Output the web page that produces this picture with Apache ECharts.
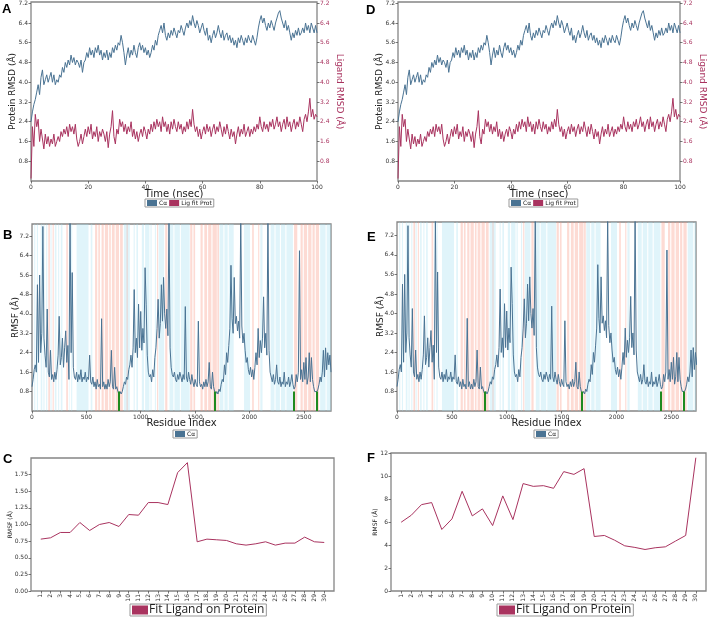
<!DOCTYPE html>
<html><head><meta charset="utf-8">
<script src="https://cdn.jsdelivr.net/npm/echarts@6/dist/echarts.min.js"></script>
<style>html,body{margin:0;padding:0;background:#fff}#c{width:708px;height:618px}</style>
</head><body><div id="c"></div>
<script>
// ---------- DATA ----------
const timeStep = 0.5; // ns between frames
const proteinRMSD = [
2.4,2.8,3.1,3.3,3.6,3.9,3.5,4.2,4.5,3.9,
4.1,4.3,4.0,4.2,4.4,4.0,4.3,3.9,4.1,4.0,
4.3,4.2,4.6,4.4,4.8,4.6,4.9,4.7,5.1,4.8,
5.0,4.7,4.9,4.8,4.6,4.9,4.4,4.8,4.9,5.2,
5.0,5.4,5.1,5.3,5.0,5.4,5.2,5.5,5.1,5.3,
4.9,5.2,5.0,5.3,4.9,5.2,5.0,5.4,5.2,5.5,
5.3,5.6,5.5,5.9,5.6,5.2,4.7,5.1,5.4,5.0,
5.3,5.1,5.5,5.2,5.0,5.4,5.6,5.3,5.5,5.2,
5.4,5.1,5.3,5.0,5.2,5.5,5.3,5.7,5.5,5.9,
6.1,6.3,6.0,6.4,5.9,5.7,6.0,5.8,6.1,5.9,
6.2,6.0,5.8,6.1,6.0,6.3,6.1,5.9,6.2,6.4,
6.2,6.5,6.3,6.7,6.4,6.2,6.5,6.3,6.0,6.2,
6.4,6.1,5.9,6.2,5.7,5.9,5.6,5.9,6.1,5.8,
6.0,6.3,6.0,5.8,6.1,5.7,5.9,6.0,5.7,5.9,
5.6,5.8,5.5,5.7,5.4,5.8,5.6,5.9,5.7,5.5,
5.8,5.6,5.9,5.7,5.6,5.9,5.7,5.5,5.8,6.2,
6.5,6.7,6.4,6.6,6.3,6.1,6.4,6.2,6.5,6.3,
6.1,6.4,6.6,6.8,6.9,6.6,6.4,6.2,6.5,6.1,
6.3,6.0,5.7,6.0,5.8,6.1,5.9,6.2,5.9,6.0,
6.2,6.0,6.4,6.1,6.3,6.0,6.4,6.2,6.0,6.3,
6.0];
const ligandRMSD = [
0.1,2.2,1.4,2.7,2.2,2.5,1.6,2.1,1.7,1.3,
1.9,1.5,1.8,1.4,1.7,1.5,1.9,1.4,1.6,1.8,
1.6,2.0,1.8,2.1,1.9,2.2,1.8,2.3,2.0,2.2,
1.9,2.3,1.7,1.4,1.6,1.9,1.5,1.8,2.1,1.8,
2.2,1.9,2.3,1.7,2.0,1.8,2.2,1.6,2.0,1.8,
2.1,1.9,1.6,2.0,1.35,1.9,2.2,2.85,1.8,1.5,
2.1,1.9,2.5,2.2,2.4,2.0,2.3,1.9,2.2,2.0,
2.4,1.8,2.1,1.7,2.0,1.6,1.9,2.1,1.8,2.2,
2.0,1.7,2.1,1.9,2.3,2.0,2.4,2.1,2.5,2.2,
2.4,2.0,2.6,2.2,2.4,2.0,2.3,1.9,2.4,2.1,
2.5,2.2,2.0,2.4,2.1,2.3,1.9,2.2,2.0,2.4,
2.1,2.5,2.2,2.9,2.3,2.0,2.2,1.8,2.1,1.7,
2.0,2.2,1.9,2.3,2.0,2.2,1.8,2.1,2.3,1.9,
2.2,2.0,2.4,2.1,1.8,2.2,1.9,2.3,2.0,1.7,
2.1,1.8,2.0,1.5,1.9,2.2,1.8,2.1,1.9,2.3,
1.8,2.0,2.2,1.8,2.1,1.9,2.2,2.0,2.3,2.1,
2.6,2.2,2.0,2.4,2.1,2.3,2.0,2.4,2.2,2.5,
2.1,2.3,2.6,2.2,2.4,2.0,2.3,2.5,2.1,2.6,
2.2,2.4,2.0,2.3,2.5,2.1,2.4,2.2,2.6,2.3,
2.0,2.5,2.7,2.4,2.8,3.35,2.6,2.9,2.5,2.7,
2.6];
const residueStep = 10;
const rmsfCA = [
1.0,1.3,1.7,1.9,1.6,5.2,2.0,5.6,2.4,3.2,
7.6,3.0,2.3,1.8,4.2,1.6,1.4,2.5,1.3,1.5,
1.2,1.6,1.3,1.7,2.3,3.9,1.9,2.2,3.0,1.8,
2.6,3.3,2.0,2.7,1.3,7.9,2.4,5.7,1.8,1.4,
1.3,1.6,1.2,1.5,1.3,1.7,1.2,1.4,1.3,1.6,
1.2,1.4,1.3,2.3,1.2,1.1,1.4,1.0,1.2,0.9,
1.3,1.0,1.1,0.9,3.8,1.0,1.2,0.9,1.1,0.9,
1.3,1.0,1.2,2.5,1.0,0.9,1.8,0.9,1.0,0.8,
0.7,0.8,0.7,0.8,1.0,1.2,1.1,1.4,1.3,1.7,
1.9,2.3,1.8,2.6,5.0,2.4,3.0,2.2,4.4,2.6,
4.1,2.5,3.4,2.8,5.9,4.4,2.3,1.6,1.4,1.5,
1.2,1.7,1.4,2.2,2.6,3.4,4.6,3.0,3.6,5.2,
3.7,5.5,4.0,3.4,4.2,3.1,8.0,2.6,1.8,1.5,
1.4,1.6,1.3,1.2,1.5,1.3,1.6,1.4,1.2,1.5,
1.3,4.3,1.4,1.2,1.6,1.3,1.1,1.5,1.2,1.0,
1.3,1.1,1.0,3.7,1.2,1.0,1.1,0.9,1.2,1.0,
1.3,1.0,1.2,2.0,1.0,0.9,1.6,1.0,0.8,0.7,
0.8,0.7,0.9,0.8,1.1,1.3,1.2,1.9,1.5,2.4,
2.0,2.7,3.4,6.0,3.8,3.2,5.5,3.6,3.9,3.3,
3.7,3.0,8.0,3.5,2.8,3.2,2.5,2.0,2.2,1.7,
1.5,1.8,1.4,1.7,1.3,1.8,2.4,1.9,3.4,2.2,
2.9,2.4,3.0,4.7,2.6,3.2,2.3,8.0,2.5,1.6,
1.4,1.2,1.5,1.1,1.3,1.9,1.2,1.1,1.4,1.0,
1.2,1.1,1.6,1.0,1.2,1.1,1.4,1.0,1.2,1.5,
1.1,0.9,1.0,1.5,1.2,1.6,6.6,1.3,1.7,1.2,
2.0,1.3,2.2,1.1,1.4,2.4,1.2,2.2,1.3,1.0,
0.8,0.75,0.8,0.9,1.1,1.4,1.2,1.6,2.5,1.4,
2.6,1.7,2.4,1.9,2.3,1.6];
const helixRanges = [[150,165],[190,200],[315,330],[580,600],[610,625],[640,660],[670,700],[710,725],[735,760],[770,800],[810,835],[870,880],[1150,1160],[1225,1245],[1455,1475],[1485,1500],[1550,1570],[1585,1610],[1620,1650],[1660,1700],[1705,1720],[2025,2040],[2080,2090],[2410,2440],[2470,2490],[2500,2530],[2540,2570],[2580,2600],[2610,2640]];
const strandRanges = [[20,30],[45,55],[80,95],[105,115],[130,140],[170,180],[210,225],[240,250],[265,280],[340,345],[360,370],[410,520],[540,555],[845,900],[935,945],[960,975],[1010,1030],[1040,1080],[1090,1100],[1130,1140],[1165,1215],[1265,1300],[1310,1360],[1370,1450],[1725,1760],[1770,1800],[1810,1855],[1950,2005],[2100,2120],[2195,2230],[2240,2280],[2290,2330],[2340,2400],[2650,2700],[2710,2750]];
const ligandContacts = [800,1685,2405,2615];
const atomIndexC = [1,2,3,4,5,6,7,8,9,10,11,12,13,14,15,16,17,18,19,20,21,22,23,24,25,26,27,28,29,30];
const rmsfLigC = [0.78,0.80,0.88,0.88,1.03,0.91,1.00,1.03,0.97,1.15,1.14,1.33,1.33,1.30,1.78,1.93,0.74,0.78,0.77,0.76,0.71,0.69,0.71,0.74,0.69,0.72,0.72,0.81,0.74,0.73];
const rmsfLigF = [5.98,6.59,7.51,7.69,5.35,6.27,8.67,6.53,7.14,5.69,8.27,6.21,9.34,9.10,9.16,8.93,10.38,10.14,10.64,4.74,4.83,4.42,3.93,3.79,3.61,3.76,3.84,4.34,4.83,11.59];
const rmsdTicks = [0.8,1.6,2.4,3.2,4.0,4.8,5.6,6.4,7.2];
const timeTicks = [0,20,40,60,80,100];
const residueTicks = [0,500,1000,1500,2000,2500];
const ticksC = [0,0.25,0.5,0.75,1.0,1.25,1.5,1.75];
const ticksF = [0,2,4,6,8,10,12];

// ---------- BUILD ----------
const FONT = 'DejaVu Sans';
const BLUE = '#4a7393', RED = '#a9335f', GREEN = '#1f8a1f';
const pairs = (arr, step) => arr.map((v, i) => [i * step, v]);
const protPts = pairs(proteinRMSD, timeStep);
const ligPts = pairs(ligandRMSD, timeStep);
const rmsfPts = pairs(rmsfCA, residueStep);
const ligCPts = atomIndexC.map((a, i) => [a, rmsfLigC[i]]);
const ligFPts = atomIndexC.map((a, i) => [a, rmsfLigF[i]]);

const grids = [
  {left:31, top:2, width:286, height:179},
  {left:398, top:2, width:286, height:179},
  {left:32, top:224, width:299, height:187},
  {left:397, top:222, width:299, height:189},
  {left:31, top:458, width:303, height:133},
  {left:391, top:453, width:315, height:138}
].map(g => Object.assign(g, {show:true, borderColor:'#858585', borderWidth:1.3, backgroundColor:'#fff'}));

const f1 = v => v.toFixed(1);
const f2 = v => v.toFixed(2);
const f0 = v => String(Math.round(v));

function ax(o) {
  const lab = Object.assign({fontSize:6, color:'#333', margin:3, fontFamily:FONT}, o.label || {});
  if (o.fmt) lab.formatter = o.fmt;
  const a = {
    gridIndex:o.g, type:'value', min:o.min, max:o.max,
    axisLine:{show:false},
    axisTick:{show:true, length:2.5, lineStyle:{color:'#555', width:0.8}},
    axisLabel:lab, splitLine:{show:false}
  };
  if (o.ticks) { a.axisTick.customValues = o.ticks; a.axisLabel.customValues = o.ticks; }
  if (o.pos) a.position = o.pos;
  if (o.name) {
    a.name = o.name; a.nameLocation = 'middle'; a.nameGap = o.gap; a.nameMoveOverlap = false;
    a.nameTextStyle = Object.assign({fontSize:o.nfs || 10, fontFamily:FONT, color:o.ncol || '#222'});
    if (o.nrot !== undefined) a.nameRotate = o.nrot;
  }
  return a;
}

const xAxis = [
  ax({g:0, min:0, max:100, ticks:timeTicks, fmt:f0, name:'Time (nsec)', gap:8, nfs:10}),
  ax({g:1, min:0, max:100, ticks:timeTicks, fmt:f0, name:'Time (nsec)', gap:8, nfs:10}),
  ax({g:2, min:0, max:2750, ticks:residueTicks, fmt:f0, name:'Residue Index', gap:7, nfs:10}),
  ax({g:3, min:0, max:2725, ticks:residueTicks, fmt:f0, name:'Residue Index', gap:7, nfs:10}),
  ax({g:4, min:0, max:31, ticks:atomIndexC, fmt:f0, label:{rotate:90, fontSize:6}}),
  ax({g:5, min:0, max:31, ticks:atomIndexC, fmt:f0, label:{rotate:90, fontSize:6}})
];
const yAxis = [
  ax({g:0, min:0, max:7.25, ticks:rmsdTicks, fmt:f1, name:'Protein RMSD (Å)', gap:14, nfs:9}),
  ax({g:0, min:0, max:7.25, ticks:rmsdTicks, fmt:f1, pos:'right', label:{color:RED}, name:'Ligand RMSD (Å)', gap:18, nfs:9, ncol:RED, nrot:-90}),
  ax({g:1, min:0, max:7.25, ticks:rmsdTicks, fmt:f1, name:'Protein RMSD (Å)', gap:14, nfs:9}),
  ax({g:1, min:0, max:7.25, ticks:rmsdTicks, fmt:f1, pos:'right', label:{color:RED}, name:'Ligand RMSD (Å)', gap:18, nfs:9, ncol:RED, nrot:-90}),
  ax({g:2, min:0, max:7.7, ticks:rmsdTicks, fmt:f1, name:'RMSF (Å)', gap:12, nfs:9}),
  ax({g:3, min:0, max:7.75, ticks:rmsdTicks, fmt:f1, name:'RMSF (Å)', gap:12, nfs:9}),
  ax({g:4, min:0, max:2.0, ticks:ticksC, fmt:f2, name:'RMSF (Å)', gap:18, nfs:6}),
  ax({g:5, min:0, max:12, ticks:ticksF, fmt:f0, name:'RMSF (Å)', gap:13, nfs:6})
];

function bands(xi, yi) {
  const d = [];
  strandRanges.forEach(r => d.push([{xAxis:r[0], itemStyle:{color:'rgba(160,220,240,0.32)'}}, {xAxis:r[1]}]));
  helixRanges.forEach(r => d.push([{xAxis:r[0], itemStyle:{color:'rgba(250,150,130,0.34)'}}, {xAxis:r[1]}]));
  return {type:'line', name:'ss', xAxisIndex:xi, yAxisIndex:yi, data:[], z:1, silent:true,
    markArea:{silent:true, data:d}};
}
function line(name, xi, yi, data, color, extra) {
  return Object.assign({type:'line', name, xAxisIndex:xi, yAxisIndex:yi, data, showSymbol:false, symbol:'none',
    lineStyle:{color, width:1}, itemStyle:{color}, z:3, animation:false}, extra || {});
}
function contacts() {
  return {silent:true, symbol:['none','none'], label:{show:false},
    lineStyle:{color:GREEN, width:2, type:'solid'},
    data: ligandContacts.map(r => [{coord:[r,0]},{coord:[r,0.8]}])};
}

const series = [
  line('Cα', 0, 0, protPts, BLUE),
  line('Lig fit Prot', 0, 1, ligPts, RED),
  line('Cα', 1, 2, protPts, BLUE),
  line('Lig fit Prot', 1, 3, ligPts, RED),
  bands(2, 4),
  line('Cα', 2, 4, rmsfPts, BLUE, {markLine:contacts()}),
  bands(3, 5),
  line('Cα', 3, 5, rmsfPts, BLUE, {markLine:contacts()}),
  line('Fit Ligand on Protein', 4, 6, ligCPts, RED),
  line('Fit Ligand on Protein', 5, 7, ligFPts, RED)
];

function smallLegend(left, top, names) {
  return {data:names, left, top, icon:'rect', itemWidth:10, itemHeight:6, itemGap:2,
    textStyle:{fontSize:6, fontFamily:FONT, color:'#222', padding:[0,0,0,-3]},
    borderColor:'#999', borderWidth:1, padding:[1,2], selectedMode:false};
}
function bigLegend(left, top) {
  return {data:['Fit Ligand on Protein'], left, top, icon:'rect', itemWidth:16, itemHeight:9,
    textStyle:{fontSize:12, fontFamily:'Open Sans', color:'#222', padding:[0,0,0,-4]},
    borderColor:'#999', borderWidth:1, padding:[0,2], selectedMode:false};
}
const legend = [
  smallLegend(145, 199, ['Cα','Lig fit Prot']),
  smallLegend(509, 199, ['Cα','Lig fit Prot']),
  smallLegend(173, 430, ['Cα']),
  smallLegend(534, 430, ['Cα']),
  bigLegend(130, 604),
  bigLegend(497, 604)
];

const letters = [['A',2,3],['D',366,4],['B',3,229],['E',367,231],['C',3,453],['F',367,452]];
const graphic = letters.map(l => ({type:'text', left:l[1], top:l[2],
  style:{text:l[0], font:'bold 13px "Liberation Sans", Arial', fill:'#000'}}));

const chart = echarts.init(document.getElementById('c'), null, {renderer:'canvas'});
chart.setOption({animation:false, backgroundColor:'#fff', grid:grids, xAxis, yAxis, series, legend, graphic});
</script></body></html>
